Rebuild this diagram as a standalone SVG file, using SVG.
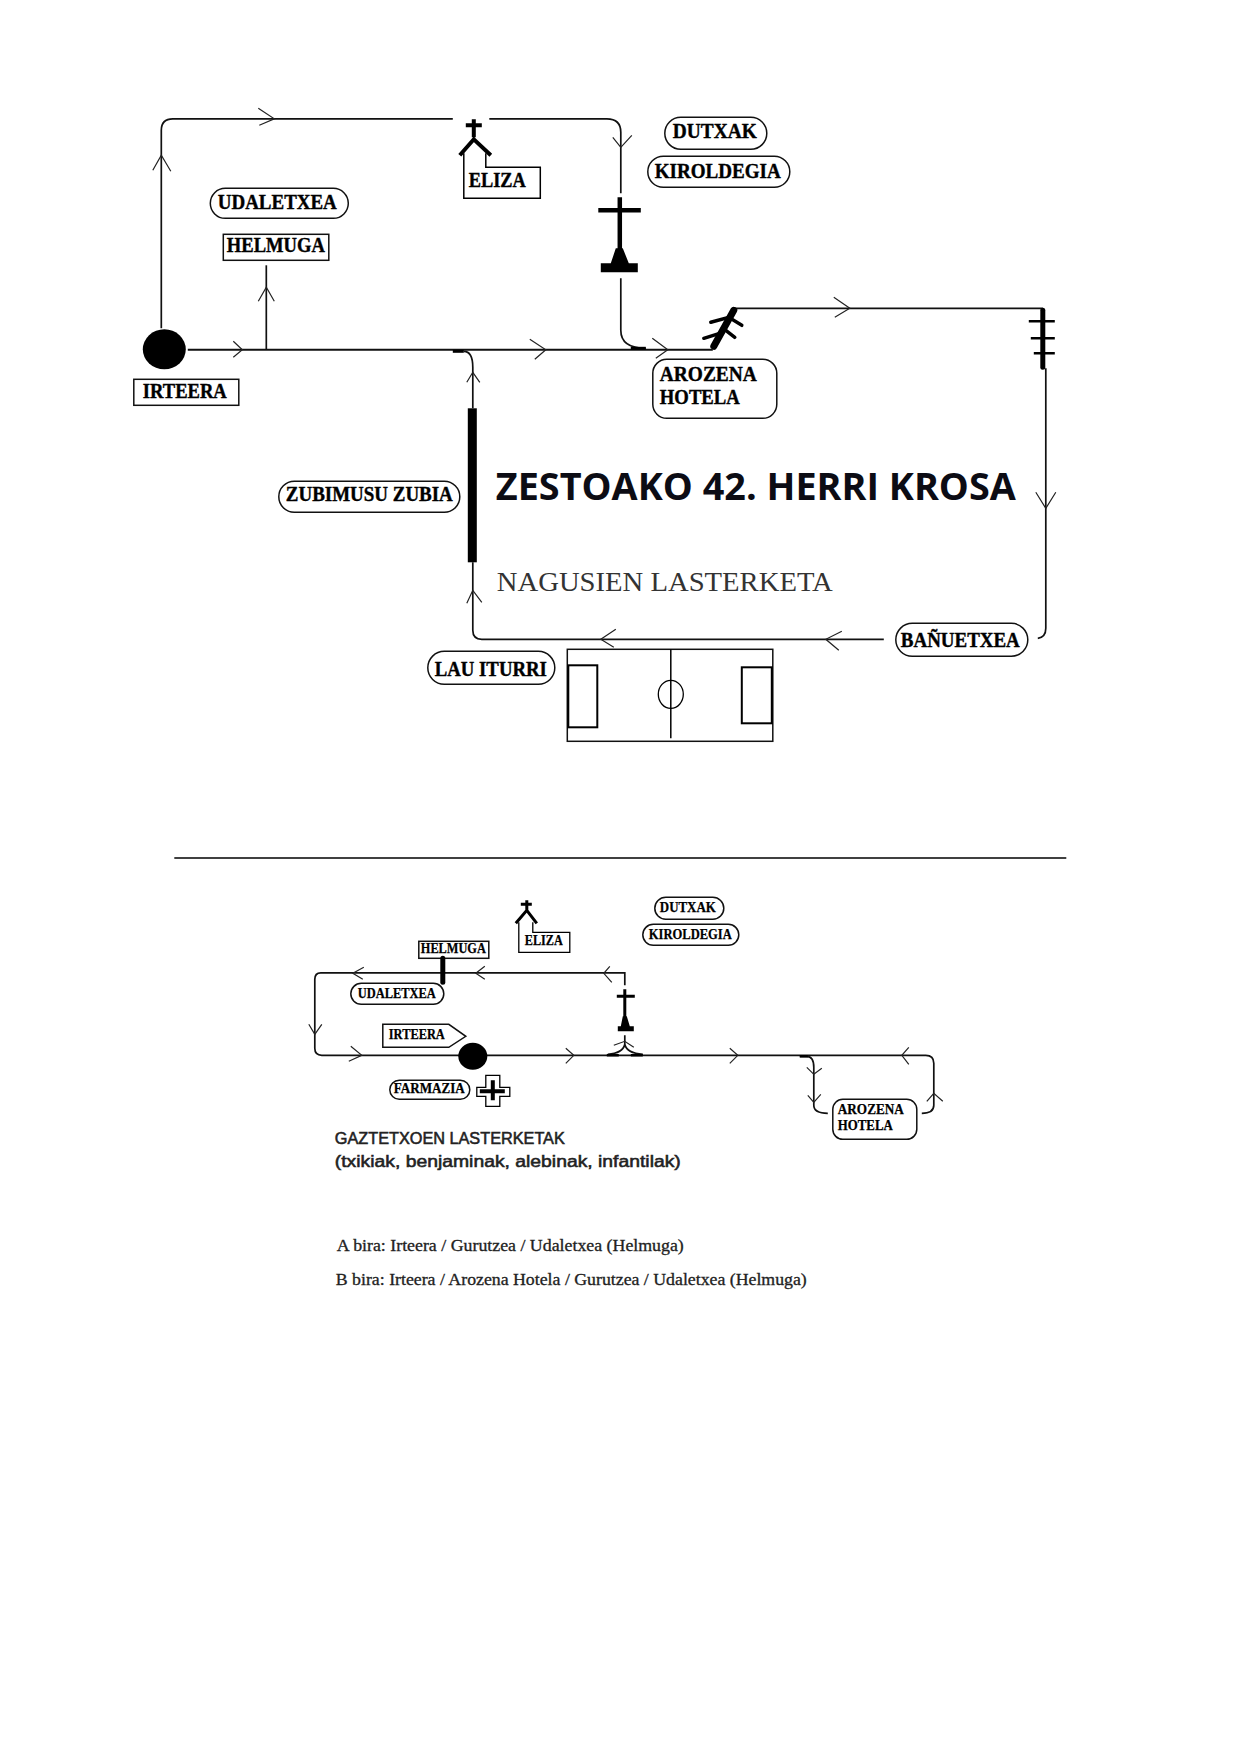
<svg xmlns="http://www.w3.org/2000/svg" width="1240" height="1754" viewBox="0 0 1240 1754">
<style>
.l{fill:none;stroke:#111;stroke-width:1.7}
.a{fill:none;stroke:#222;stroke-width:1.2}
.b{fill:#fff;stroke:#111;stroke-width:1.5}
.s{fill:none;stroke:#000}
.f{fill:#000;stroke:none}
text{font-family:"Liberation Serif",serif;fill:#000}
.t{font-weight:bold;font-size:20.5px;stroke:#000;stroke-width:.4}
.u{font-weight:bold;font-size:14px;stroke:#000;stroke-width:.25}
.h{font-family:"Liberation Sans",Arial,sans-serif;font-size:16.5px;fill:#222;stroke:#222;stroke-width:.55}
.r{font-size:16px;fill:#222;stroke:#222;stroke-width:.3}
</style>
<rect width="1240" height="1754" fill="#fff"/>
<g transform="translate(0.8 0.3)">
<g id="connectors">
<path class="l" d="M160.500 328V130Q160.500 118.500 172 118.500H452M488.500 118.500H606Q620 118.500 620 132V193"/>
<path class="l" d="M620 278V330Q620 348 645 348"/>
<path class="l" style="stroke-width:2" d="M187 349.500H712"/>
<path class="l" d="M265.500 349V265"/>
<path class="l" d="M463 351Q472 351 472 367V408M472 562V630Q472 639 481 639H883"/>
<path class="s" stroke-width="3" d="M452 351H463"/>
<path class="s" stroke-width="3" d="M630 348H645"/>
<path class="l" d="M733 308H1042M1045 368V628Q1045 637 1037 638"/>
<path class="l" d="M624 985V972.500H320Q314 972.500 314 979V1048Q314 1055 321 1055H925Q933 1055 933 1063V1105Q933 1113 921 1113"/>
<path class="l" d="M799 1056H806Q813 1056 813 1067V1105Q813 1113 827 1113"/>
<path class="s" stroke-width="2.500" d="M799 1056H807"/>
<path class="l" d="M624 1035V1044Q622 1053 607 1054M624 1044Q626 1053 642 1054"/>
<path class="s" stroke-width="2.500" d="M606 1055H618M630 1055H642"/>
<g id="arrowheads">
<path class="a" d="M257.500 108L273.500 118.500L258.500 125"/>
<path class="a" d="M152 170L160.500 155L170 171"/>
<path class="a" d="M612 137L620 147L631 135"/>
<path class="a" d="M232.500 341L241.500 349.500L232.500 357"/>
<path class="a" d="M257.500 301L265.500 287L273.500 301"/>
<path class="a" d="M529 339L545 349.500L534 359"/>
<path class="a" d="M651.500 338L667 349.500L655 358"/>
<path class="a" d="M466 382L472 372L479 382"/>
<path class="a" d="M466 603L472 590L481 602"/>
<path class="a" d="M615 629L600 639L613 647"/>
<path class="a" d="M841 631L825 639L838 650"/>
<path class="a" d="M833 297L849 308L834 317"/>
<path class="a" d="M1035 492L1045 508L1055 492"/>
<path class="a" d="M484 966L475 973L484 979"/>
<path class="a" d="M363 967L352 973L362 979"/>
<path class="a" d="M609 966L603 973L611 982"/>
<path class="a" d="M308 1024L314 1034L321 1024"/>
<path class="a" d="M350 1046L361 1055L348 1061"/>
<path class="a" d="M565 1048L573 1055L565 1063"/>
<path class="a" d="M729 1048L737 1055L729 1063"/>
<path class="a" d="M908 1047L901 1055L908 1064"/>
<path class="a" d="M806 1067L813 1074L821 1068"/>
<path class="a" d="M807 1095L813 1102L820 1094"/>
<path class="a" d="M926 1101L933 1093L942 1101"/>
<path class="a" d="M613 1045L624 1041L633 1047"/>
</g>
</g>
<g id="start-top">
<ellipse class="f" cx="163.500" cy="349" rx="21.500" ry="20"/>
</g>
<g id="irteera-top">
<rect class="b" x="133" y="379" width="105" height="26"/>
<text class="t" x="142" y="398" textLength="84" lengthAdjust="spacingAndGlyphs">IRTEERA</text>
</g>
<g id="udaletxea-top">
<rect class="b" x="209.500" y="188" width="138" height="30" rx="15"/>
<text class="t" x="217" y="209" textLength="119" lengthAdjust="spacingAndGlyphs">UDALETXEA</text>
</g>
<g id="helmuga-top">
<rect class="b" x="222.500" y="234" width="105.500" height="26"/>
<text class="t" x="226" y="252" textLength="98" lengthAdjust="spacingAndGlyphs">HELMUGA</text>
</g>
<g id="eliza-top">
<path class="s" stroke-width="1.500" d="M463 153V198H539.500V167H485V153"/>
<path class="s" stroke-width="4" d="M473 119V137M465 125H481M459 155L473 139L490 155"/>
<text class="t" x="468" y="187" textLength="57" lengthAdjust="spacingAndGlyphs">ELIZA</text>
</g>
<g id="dutxak-top">
<rect class="b" x="664" y="117" width="102" height="32" rx="16"/>
<text class="t" x="672" y="138" textLength="84" lengthAdjust="spacingAndGlyphs">DUTXAK</text>
</g>
<g id="kiroldegia-top">
<rect class="b" x="647" y="156" width="142" height="31" rx="15.500"/>
<text class="t" x="654" y="178" textLength="126" lengthAdjust="spacingAndGlyphs">KIROLDEGIA</text>
</g>
<g id="gurutzea-top">
<path class="s" stroke-width="4.500" d="M619 197V255M597.500 210H640"/>
<path class="f" d="M615 248H622L628 263H637V272H600V263H610Z"/>
</g>
<g id="tree-top">
<path class="s" stroke-width="7" stroke-linecap="round" d="M713 346L733 310"/>
<path class="s" stroke-width="3.500" stroke-linecap="round" d="M710 322L728 317L741 325M703 338L722 332M725 330L734 337"/>
</g>
<g id="arozena-top">
<rect class="b" x="652" y="359" width="124" height="59" rx="14"/>
<text class="t" x="659" y="381" textLength="97" lengthAdjust="spacingAndGlyphs">AROZENA</text>
<text class="t" x="659" y="404" textLength="80" lengthAdjust="spacingAndGlyphs">HOTELA</text>
</g>
<g id="pole-top">
<path class="s" stroke-width="5" stroke-linecap="round" d="M1042 310V367"/>
<path class="s" stroke-width="2.500" d="M1028 321H1054M1030 338H1054M1033 353H1054"/>
</g>
<g id="bridge-top">
<rect class="f" x="467" y="408" width="9" height="154"/>
</g>
<g id="zubimusu-top">
<rect class="b" x="278" y="481" width="181" height="31" rx="15.500"/>
<text class="t" x="285" y="501" textLength="167" lengthAdjust="spacingAndGlyphs">ZUBIMUSU ZUBIA</text>
</g>
<g id="banuetxea-top">
<rect class="b" x="895" y="623" width="132" height="33" rx="16.500"/>
<text class="t" x="900" y="647" textLength="119" lengthAdjust="spacingAndGlyphs">BAÑUETXEA</text>
</g>
<g id="lauiturri-top">
<rect class="b" x="427" y="651" width="127" height="33" rx="16.500"/>
<text class="t" x="434" y="676" textLength="112" lengthAdjust="spacingAndGlyphs">LAU ITURRI</text>
</g>
<g id="field-top">
<rect class="b" x="566.500" y="649" width="205.500" height="92"/>
<path class="s" stroke-width="1.500" d="M670 649V738"/>
<ellipse class="s" stroke-width="1.300" cx="670" cy="694" rx="12.500" ry="14"/>
<rect class="s" stroke-width="2" x="567.500" y="665" width="29" height="62"/>
<rect class="s" stroke-width="2" x="741" y="667" width="30" height="56"/>
</g>
<text id="title" x="495" y="500" font-size="38" font-weight="bold" style="font-family:'Open Sans','Liberation Sans',sans-serif;fill:#0c0c14" textLength="520" lengthAdjust="spacingAndGlyphs">ZESTOAKO 42. HERRI KROSA</text>
<text id="subtitle" x="496" y="591" font-size="28" style="fill:#333" textLength="336" lengthAdjust="spacingAndGlyphs">NAGUSIEN LASTERKETA</text>
<path id="separator" class="s" stroke-width="1.500" d="M173.500 857.800H1065.500"/>
<g id="helmuga-low">
<rect class="b" x="418" y="941" width="70" height="17"/>
<text class="u" x="420" y="953" textLength="65" lengthAdjust="spacingAndGlyphs">HELMUGA</text>
<path class="s" stroke-width="5" stroke-linecap="round" d="M442 958V982"/>
</g>
<g id="udaletxea-low">
<rect class="b" x="350" y="983" width="93" height="21" rx="10.500"/>
<text class="u" x="357" y="998" textLength="78" lengthAdjust="spacingAndGlyphs">UDALETXEA</text>
</g>
<g id="eliza-low">
<path class="s" stroke-width="1.300" d="M518 922V952H569V932H532V922"/>
<path class="s" stroke-width="3" d="M526 900V911M520 904H531M515 923L526 910L536 923"/>
<text class="u" x="524" y="945" textLength="38" lengthAdjust="spacingAndGlyphs">ELIZA</text>
</g>
<g id="dutxak-low">
<rect class="b" x="654" y="897" width="69" height="22" rx="11"/>
<text class="u" x="659" y="912" textLength="56" lengthAdjust="spacingAndGlyphs">DUTXAK</text>
</g>
<g id="kiroldegia-low">
<rect class="b" x="642" y="924" width="96" height="21" rx="10.500"/>
<text class="u" x="648" y="939" textLength="83" lengthAdjust="spacingAndGlyphs">KIROLDEGIA</text>
</g>
<g id="gurutzea-low">
<path class="s" stroke-width="3" d="M624 989V1022M616 996H634"/>
<path class="f" d="M622 1016H626L629 1026H633V1031H617V1026H620Z"/>
</g>
<g id="irteera-low">
<path class="b" d="M382 1024H448L465 1036L448 1047H382Z"/>
<text class="u" x="388" y="1039" textLength="56" lengthAdjust="spacingAndGlyphs">IRTEERA</text>
</g>
<g id="start-low">
<ellipse class="f" cx="472" cy="1056" rx="14.500" ry="13.500"/>
</g>
<g id="farmazia-low">
<rect class="b" x="389" y="1080" width="80" height="19" rx="9.500"/>
<text class="u" x="393" y="1093" textLength="71" lengthAdjust="spacingAndGlyphs">FARMAZIA</text>
</g>
<g id="plus-low">
<path class="s" stroke-width="1.300" d="M485 1075H499V1087H509V1096H499V1106H485V1096H476V1087H485Z"/>
<path class="s" stroke-width="4" d="M492 1080V1100M479 1091H504"/>
</g>
<g id="arozena-low">
<rect class="b" x="832" y="1099" width="84" height="40" rx="10"/>
<text class="u" x="837" y="1114" textLength="66" lengthAdjust="spacingAndGlyphs">AROZENA</text>
<text class="u" x="837" y="1130" textLength="55" lengthAdjust="spacingAndGlyphs">HOTELA</text>
</g>
<text class="h" x="334" y="1144" textLength="230" lengthAdjust="spacingAndGlyphs">GAZTETXOEN LASTERKETAK</text>
<text class="h" x="334" y="1167" textLength="346" lengthAdjust="spacingAndGlyphs">(txikiak, benjaminak, alebinak, infantilak)</text>
<text class="r" x="336" y="1251" textLength="347" lengthAdjust="spacingAndGlyphs">A bira: Irteera / Gurutzea / Udaletxea (Helmuga)</text>
<text class="r" x="335" y="1285" textLength="471" lengthAdjust="spacingAndGlyphs">B bira: Irteera / Arozena Hotela / Gurutzea / Udaletxea (Helmuga)</text>
</g>
</svg>
